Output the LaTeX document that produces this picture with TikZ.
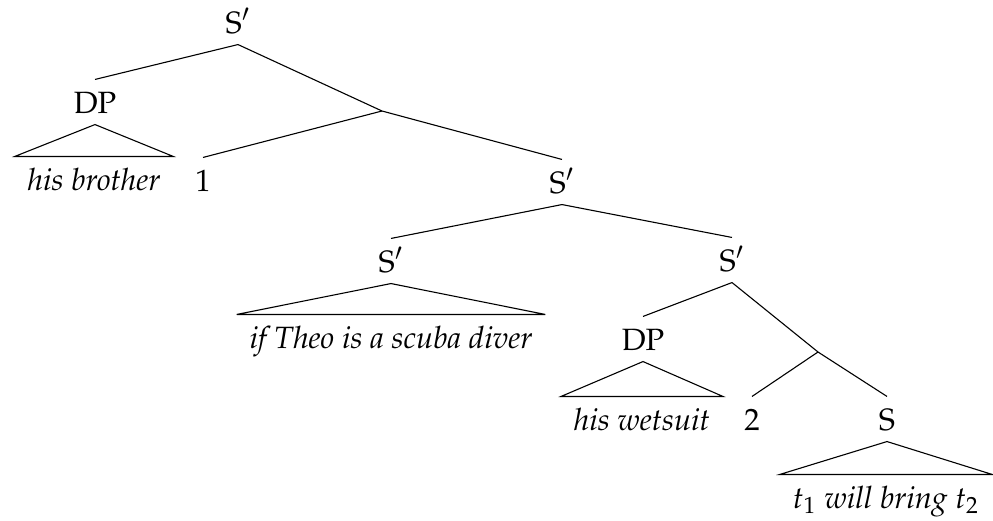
\documentclass[tikz,border=0pt]{standalone}
\usepackage[T1]{fontenc}
\usepackage{mathpazo}

\begin{document}
\begin{tikzpicture}[
    x=0.3636pt, y=-0.3636pt,
    cat/.style={anchor=base, inner xsep=4.5pt, inner ysep=4pt, text height=8pt, text depth=0pt,
        font=\fontsize{11.2}{13}\selectfont},
    phrase/.style={cat, font=\fontsize{11.2}{13}\selectfont\itshape},
    branch/.style={line width=0.4pt}
]
\useasboundingbox (0,0) rectangle (993,521);

% Top clause
\node[cat] (top) at (238,33) {S$'$};
\node[cat] (dpa) at (95,113) {DP};
\node[phrase] (brother) at (94,190) {his brother};
\node[cat] (one) at (203,191) {1};
\coordinate (bara) at (382,111);
\node[cat] (sb) at (562,193) {S$'$};

% Conditional and main clause
\node[cat] (sif) at (391,272) {S$'$};
\node[phrase] (theo) at (391,348) {if Theo is a scuba diver};
\node[cat] (smain) at (732,271) {S$'$};

% Lower object
\node[cat] (dpb) at (643,350) {DP};
\node[phrase] (wetsuit) at (642,430) {his wetsuit};
\node[cat] (two) at (752,430) {2};
\coordinate (barb) at (818,352);
\node[cat] (s) at (887,430) {S};
\node[phrase] (bring) at (886,508) {$t_1$ will bring $t_2$};

% Branches
\draw[branch] (top.south) -- (dpa.north);
\draw[branch] (top.south) -- (bara) -- (sb.north);
\draw[branch] (bara) -- (one.north);
\draw[branch] (sb.south) -- (sif.north);
\draw[branch] (sb.south) -- (smain.north);
\draw[branch] (smain.south) -- (dpb.north);
\draw[branch] (smain.south) -- (barb) -- (s.north);
\draw[branch] (barb) -- (two.north);

% Roof triangles
\foreach \p/\c in {dpa/brother, sif/theo, dpb/wetsuit, s/bring}
    \draw[branch] (\p.south) -- (\c.north west) -- (\c.north east) -- cycle;

\end{tikzpicture}
\end{document}
